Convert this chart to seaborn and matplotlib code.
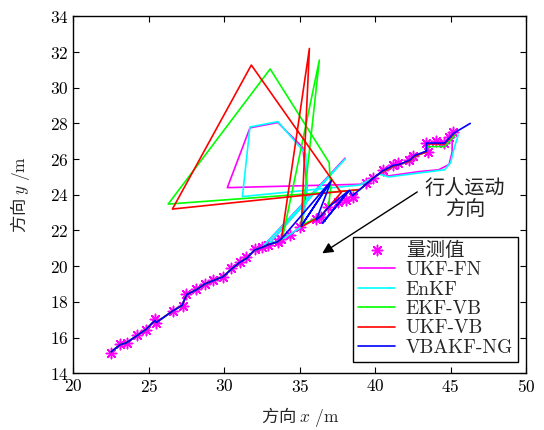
import numpy as np
import pandas as pd
import matplotlib
matplotlib.use('Agg')
import matplotlib.pyplot as plt
import seaborn as sns

# measured positions (stars)
meas_x = [22.49, 23.08, 23.53, 24.23, 24.78, 25.40, 25.46, 26.61, 27.23, 27.49,
          28.15, 28.70, 29.25, 29.91, 30.47, 31.02, 31.46, 32.01, 32.52, 32.89,
          33.55, 33.78, 34.33, 35.05, 36.09, 36.42, 36.86, 37.52, 38.08, 38.51,
          39.40, 39.84, 40.50, 41.16, 41.49, 42.26, 42.48, 43.47, 43.37, 44.03,
          44.58, 44.91, 45.13]
meas_y = [15.15, 15.62, 15.68, 16.15, 16.43, 17.03, 16.80, 17.51, 17.77, 18.44,
          18.72, 18.99, 19.23, 19.38, 19.88, 20.25, 20.50, 20.95, 21.09, 21.19,
          21.37, 21.51, 21.75, 22.18, 22.63, 22.77, 23.33, 23.61, 23.71, 23.89,
          24.64, 24.92, 25.39, 25.67, 25.76, 25.95, 26.17, 26.41, 26.89, 27.03,
          26.89, 27.25, 27.53]

# common lower part of all filter tracks
track_lo_x = [22.5, 23.1, 23.5, 24.2, 24.8, 25.4, 25.5, 26.6, 27.2, 27.5, 28.2,
              28.7, 29.3, 29.9, 30.5, 31.0, 31.5, 32.0, 32.5]
track_lo_y = [15.2, 15.6, 15.7, 16.1, 16.45, 16.95, 16.85, 17.5, 17.8, 18.4, 18.7,
              19.0, 19.2, 19.4, 19.85, 20.2, 20.45, 20.9, 21.05]

# rest of each track
ukffn_x = [38.0, 32.9, 33.5, 34.3, 35.1, 35.5, 35.2, 33.55, 31.7, 30.2, 39.4,
           40.3, 40.8, 42.9, 44.2, 44.9, 45.1, 45.1]
ukffn_y = [26.05, 21.2, 21.35, 21.75, 22.2, 24.4, 26.65, 28.05, 27.75, 24.4, 24.6,
           25.2, 25.05, 25.3, 25.4, 25.7, 26.4, 27.1]

enkf_x = [38.0, 33.0, 33.6, 34.3, 35.1, 35.5, 35.4, 33.55, 31.7, 31.2, 39.0,
          40.3, 40.9, 42.7, 44.6, 45.0, 45.2, 45.5]
enkf_y = [26.0, 21.3, 21.4, 21.75, 22.2, 23.9, 26.3, 28.1, 27.8, 23.9, 24.55,
          25.15, 25.0, 25.2, 25.4, 25.8, 26.5, 27.35]

ekfvb_x = [32.9, 33.5, 33.85, 36.3, 35.1, 36.4, 36.9, 37.05, 36.95, 33.04, 26.28,
           38.96, 39.8, 40.5, 41.2, 41.6, 42.3, 42.6, 43.4, 43.5, 44.6, 45.3]
ekfvb_y = [21.2, 21.35, 21.56, 31.55, 22.3, 22.8, 23.3, 24.4, 25.8, 31.05, 23.48,
           24.27, 24.9, 25.3, 25.6, 25.7, 25.9, 26.15, 26.4, 26.7, 26.7, 27.35]

ukfvb_x = [32.9, 33.5, 33.78, 35.64, 35.1, 36.4, 36.9, 37.74, 31.79, 26.56, 39.0,
           39.8, 40.5, 41.2, 41.6, 42.3, 42.6, 43.4, 43.4, 44.6, 45.2]
ukfvb_y = [21.2, 21.35, 21.5, 32.2, 22.2, 22.8, 23.3, 24.12, 31.27, 23.2, 24.3,
           24.9, 25.3, 25.6, 25.7, 25.9, 26.15, 26.4, 26.85, 26.85, 27.4]

vbakf_x = [32.9, 33.5, 33.8, 37.0, 35.1, 37.1, 36.1, 36.4, 36.9, 38.2, 36.5, 38.3,
           38.5, 39.4, 39.9, 40.5, 41.2, 41.6, 42.3, 42.6, 43.4, 43.4, 44.6, 45.2, 46.3]
vbakf_y = [21.2, 21.35, 21.55, 24.7, 22.25, 24.8, 22.6, 22.8, 23.3, 24.2, 22.4, 24.25,
           23.95, 24.6, 24.95, 25.35, 25.65, 25.7, 25.95, 26.2, 26.45, 26.9, 26.9, 27.45, 28.0]

names = ['UKF-FN', 'EnKF', 'EKF-VB', 'UKF-VB', 'VBAKF-NG']
colors = ['#ff00ff', '#00ffff', '#00ff00', '#ff0000', '#0000ff']
tails = [(ukffn_x, ukffn_y), (enkf_x, enkf_y), (ekfvb_x, ekfvb_y),
         (ukfvb_x, ukfvb_y), (vbakf_x, vbakf_y)]

sns.set_style('ticks')
plt.rcParams['font.family'] = ['cmr10', 'Noto Sans CJK SC']
plt.rcParams['mathtext.fontset'] = 'cm'
plt.rcParams['axes.formatter.use_mathtext'] = True
plt.rcParams['xtick.direction'] = 'in'
plt.rcParams['ytick.direction'] = 'in'
plt.rcParams['xtick.top'] = True
plt.rcParams['ytick.right'] = True

fig = plt.figure(figsize=(5.44, 4.30), dpi=100)
ax = fig.add_axes([0.135, 0.132, 0.832, 0.830])

sns.scatterplot(x=meas_x, y=meas_y, marker=(8, 2, 0), s=55, color='#ff00ff',
                linewidth=1.1, label='量测值', ax=ax, zorder=2)

for (tx, ty), name, c in zip(tails, names, colors):
    df = pd.DataFrame({'x': track_lo_x + tx, 'y': track_lo_y + ty})
    sns.lineplot(data=df, x='x', y='y', sort=False, estimator=None, color=c,
                 lw=1.2, label=name, ax=ax, zorder=3)

ax.set_xlim(20, 50)
ax.set_ylim(14, 34)
ax.set_xticks(np.arange(20, 51, 5))
ax.set_yticks(np.arange(14, 35, 2))
ax.tick_params(labelsize=12.5, length=4, width=0.8, colors='black')
for s in ax.spines.values():
    s.set_linewidth(1.0)
    s.set_color('black')
# label font is the CJK family, so the plain part keeps its glyphs
ax.set_xlabel(r'方向 $x\ \mathrm{/m}$', fontsize=12.5, labelpad=7,
              fontfamily='Noto Sans CJK SC')
ax.set_ylabel(r'方向 $y\ \mathrm{/m}$', fontsize=12.5, labelpad=13,
              fontfamily='Noto Sans CJK SC')

ax.annotate('', xy=(36.49, 20.72), xytext=(42.79, 24.16),
            arrowprops=dict(arrowstyle='-|>', color='black', lw=1.0,
                            mutation_scale=16, shrinkA=0, shrinkB=0))
ax.text(45.96, 23.76, '行人运动\n方向', ha='center', va='center', fontsize=14.5,
        linespacing=1.15, color='#222222')

leg = ax.legend(loc='lower right', bbox_to_anchor=(0.982, 0.032), borderaxespad=0,
                fancybox=False, edgecolor='black', framealpha=1, fontsize=14,
                handlelength=1.9, labelspacing=0.08, borderpad=0.25,
                handletextpad=0.55, scatterpoints=1)
leg.get_frame().set_linewidth(1.0)

plt.savefig('out.png', dpi=100)
